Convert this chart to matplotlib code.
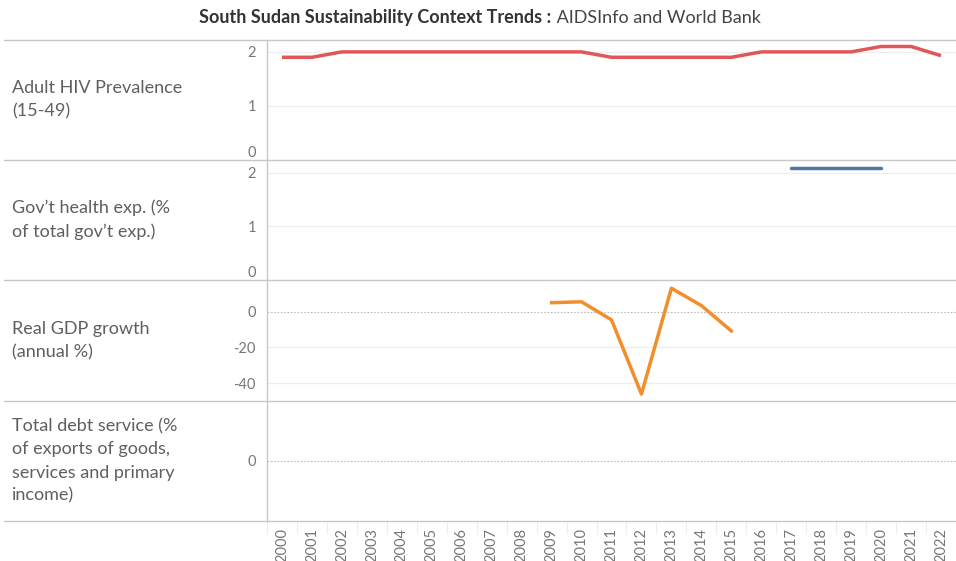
import matplotlib
matplotlib.use("Agg")
import matplotlib.pyplot as plt
from matplotlib.lines import Line2D
import numpy as np

years = list(range(2000, 2023))
hiv_prev = [1.9, 1.9, 2.0, 2.0, 2.0, 2.0, 2.0, 2.0, 2.0, 2.0, 2.0, 1.9, 1.9, 1.9, 1.9, 1.9,
            2.0, 2.0, 2.0, 2.0, 2.1, 2.1, 1.93]
health_years = [2017, 2018, 2019, 2020]
health_exp = [2.09, 2.09, 2.09, 2.09]
gdp_years = [2009, 2010, 2011, 2012, 2013, 2014, 2015]
gdp_growth = [5.0, 5.5, -4.6, -46.1, 13.1, 3.4, -10.8]
debt_years = []
debt_service = []

row_labels = ["Adult HIV Prevalence\n(15-49)",
              "Gov\u2019t health exp. (%\nof total gov\u2019t exp.)",
              "Real GDP growth\n(annual %)",
              "Total debt service (%\nof exports of goods,\nservices and primary\nincome)"]

FONT = "Lato"
plt.rcParams['font.family'] = [FONT, 'DejaVu Sans']
plt.rcParams['axes.unicode_minus'] = False

W, H = 956, 561
fig = plt.figure(figsize=(W / 100, H / 100), dpi=100)

x_left, x_right = 267, 956
tops = [40, 160, 280, 401]
bots = [160, 280, 401, 521]

def fx(px):
    return px / W

def fy(py):
    return 1 - py / H

xpos = {y: i for i, y in enumerate(years)}

axes = []
for i in range(4):
    ax = fig.add_axes([fx(x_left), fy(bots[i]), fx(x_right - x_left), (bots[i] - tops[i]) / H])
    ax.set_xlim(-0.5, len(years) - 0.5)
    for s in ax.spines.values():
        s.set_visible(False)
    ax.tick_params(axis='y', length=0, labelsize=10.5, labelcolor='#777777', pad=8)
    ax.tick_params(axis='x', length=0)
    ax.set_xticks([])
    axes.append(ax)

grid_c = '#eeeeee'
tick_lab_c = '#777777'

# Panel 1
ax = axes[0]
ax.set_ylim(0, 2.22)
ax.set_yticks([0, 1, 2])
for v in [1, 2]:
    ax.axhline(v, color=grid_c, lw=0.9, zorder=0)
ax.plot([xpos[y] for y in years], hiv_prev, color='#e15759', lw=2.5, solid_capstyle='butt', zorder=3)

# Panel 2
ax = axes[1]
ax.set_ylim(0, 2.24)
ax.set_yticks([0, 1, 2])
for v in [1, 2]:
    ax.axhline(v, color=grid_c, lw=0.9, zorder=0)
ax.plot([xpos[y] for y in health_years], health_exp, color='#4e79a7', lw=2.5, solid_capstyle='round', zorder=3)

# Panel 3
ax = axes[2]
ax.set_ylim(-50, 17.7)
ax.set_yticks([0, -20, -40])
for v in [-20, -40]:
    ax.axhline(v, color=grid_c, lw=0.9, zorder=0)
ax.axhline(0, color='#bbbbbb', lw=0.8, ls=(0, (1.5, 1.5)), zorder=1)
ax.plot([xpos[y] for y in gdp_years], gdp_growth, color='#f28e2b', lw=2.5, zorder=3)

# Panel 4
ax = axes[3]
ax.set_ylim(-1, 1)
ax.set_yticks([0])
ax.axhline(0, color='#bbbbbb', lw=0.8, ls=(0, (1.5, 1.5)), zorder=1)
if debt_years:
    ax.plot([xpos[y] for y in debt_years], debt_service, color='#4e79a7', lw=2.5)

for a in axes[:2]:
    for lab in a.get_yticklabels():
        if lab.get_text() == '0':
            lab.set_va('bottom')

# X tick labels on bottom panel
ax = axes[3]
ax.set_xticks(range(len(years)))
ax.set_xticklabels([str(y) for y in years], rotation=90, fontsize=10.5, color=tick_lab_c, va='top')
ax.tick_params(axis='x', length=0, pad=5)
ax.set_xticks(np.arange(-0.5, len(years), 1.0), minor=True)
ax.tick_params(axis='x', which='minor', length=9, color='#eeeeee', width=0.8)

# separator lines
line_c = '#c8c8c8'
for py in [40, 160, 280, 401, 521]:
    fig.add_artist(Line2D([fx(4), 1], [fy(py), fy(py)], color=line_c, lw=1.0))
fig.add_artist(Line2D([fx(x_left), fx(x_left)], [fy(40), fy(521)], color=line_c, lw=1.0))

# row labels
for i, lab in enumerate(row_labels):
    cy = (tops[i] + bots[i]) / 2
    fig.text(fx(12), fy(cy), lab, ha='left', va='center', fontsize=13,
             color='#5f5f5f', linespacing=1.55)

# title
fig.canvas.draw()
r = fig.canvas.get_renderer()
t1 = fig.text(0, fy(18), "South Sudan Sustainability Context Trends :", fontsize=13,
              fontweight='bold', color='#333333', va='center', ha='left')
t2 = fig.text(0, fy(18), " AIDSInfo and World Bank", fontsize=13, color='#444444', va='center', ha='left')
w1 = t1.get_window_extent(r).width
w2 = t2.get_window_extent(r).width
start = 480 - (w1 + w2) / 2
t1.set_x(fx(start))
t2.set_x(fx(start + w1))

fig.savefig("out.png", dpi=100, facecolor='white')
